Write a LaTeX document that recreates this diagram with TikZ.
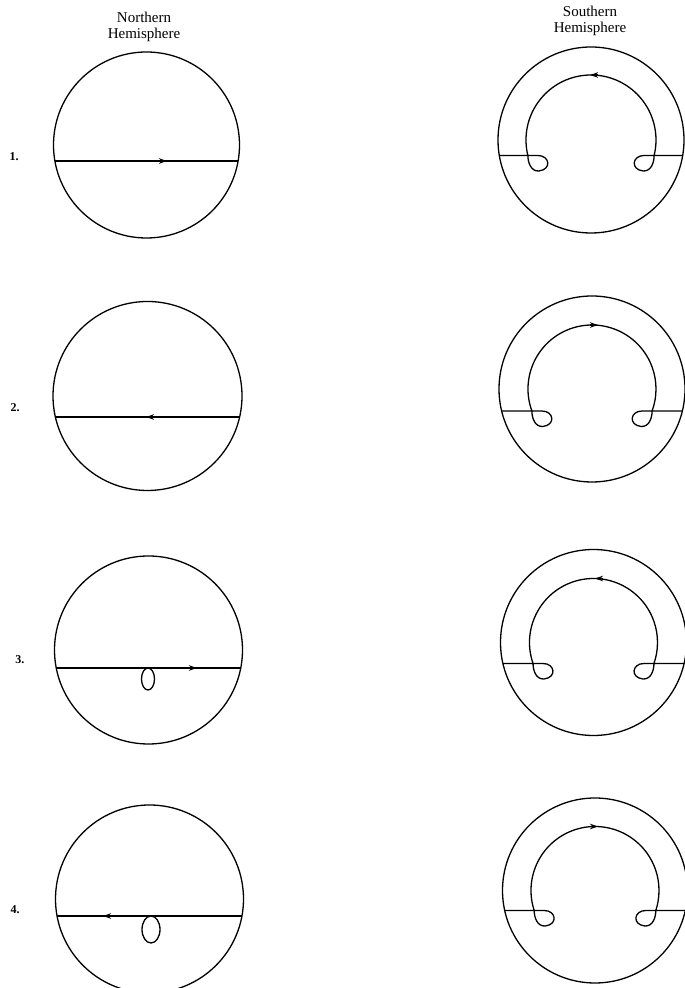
\documentclass[tikz,border=0pt]{standalone}
\usepackage{fontspec}
\setmainfont{Liberation Serif}
\usetikzlibrary{arrows.meta}
\tikzset{
  ring/.style={line width=1.3pt},
  track/.style={line width=1.3pt, line join=round},
  tipR/.style={-{Stealth[length=8pt,width=5.5pt]}, line width=1.3pt},
  hemi/.style={font=\fontsize{15}{16}\selectfont, anchor=base, inner sep=0pt},
  numlab/.style={font=\fontsize{12}{14}\selectfont\bfseries, anchor=base, inner sep=0pt}
}
\begin{document}
\begin{tikzpicture}[x=1pt,y=1pt]
\useasboundingbox (0,0) rectangle (685,988);
\fill[white] (0,0) rectangle (685,988);

% headers
\node[hemi] (nh1) at (144,965) {Northern};
\node[hemi] (nh2) at (144,949) {Hemisphere};
\node[hemi] (sh1) at (590,971) {Southern};
\node[hemi] (sh2) at (590,955) {Hemisphere};

% row labels
\node[numlab] (l1) at (14,827) {1.};
\node[numlab] (l2) at (15,576) {2.};
\node[numlab] (l3) at (20,324) {3.};
\node[numlab] (l4) at (15,74) {4.};

% Northern hemisphere figures
\begin{scope}[shift={(146.5,843)}]
  \draw[ring] (0,0) circle[radius=93];
  \draw[track] (-91.6,-16) -- (91.6,-16);
  \draw[tipR] (12,-16) -- (20.5,-16);
\end{scope}
\begin{scope}[shift={(147.5,592)}]
  \draw[ring] (0,0) circle[radius=94.5];
  \draw[track] (-92.1,-21) -- (92.1,-21);
  \draw[tipR] (7,-21) -- (-1.5,-21);
\end{scope}
\begin{scope}[shift={(148.5,338)}]
  \draw[ring] (0,0) circle[radius=94];
  \draw[track] (-92.3,-18) -- (92.3,-18);
  \draw[tipR] (40,-18) -- (48.5,-18);
  \draw[track] (-0.5,-29) ellipse[x radius=6.5, y radius=11];
\end{scope}
\begin{scope}[shift={(149.5,89)}]
  \draw[ring] (0,0) circle[radius=94];
  \draw[track] (-92.5,-17) -- (92.5,-17);
  \draw[tipR] (-38,-17) -- (-46.5,-17);
  \draw[track] (1.5,-30.5) ellipse[x radius=9, y radius=13.5];
\end{scope}

% Southern hemisphere figures
\foreach \cx/\cy/\ro/\ri/\d/\tipx/\tailx in
  {591/140/93/65/15.5/-1/7, 592/389/93/64/22/6/-2,
   593.5/642.5/93/64/21/1.5/9.5, 595/890.5/92.5/64/20/3/-5}
{
  \begin{scope}[shift={(\cx,988-\cy)}]
    \pgfmathsetmacro\px{sqrt(\ri*\ri-\d*\d)}
    \pgfmathsetmacro\ox{sqrt(\ro*\ro-\d*\d)}
    \pgfmathsetmacro\aa{asin(\d/\ri)}
    \draw[ring] (0,0) circle[radius=\ro];
    \draw[track] (-\ox,-\d) -- (-\px+10,-\d)
      .. controls (-\px+22,-\d) and (-\px+24,-\d-14) .. (-\px+11,-\d-15.5)
      .. controls (-\px+3,-\d-16) and (-\px,-\d-7) .. (-\px,-\d)
      arc[start angle=180+\aa, end angle=-\aa, radius=\ri]
      .. controls (\px,-\d-7) and (\px-3,-\d-16) .. (\px-11,-\d-15.5)
      .. controls (\px-24,-\d-14) and (\px-22,-\d) .. (\px-10,-\d)
      -- (\ox,-\d);
    \draw[tipR] (\tailx,\ri) -- (\tipx,\ri);
  \end{scope}
}
\end{tikzpicture}
\end{document}
